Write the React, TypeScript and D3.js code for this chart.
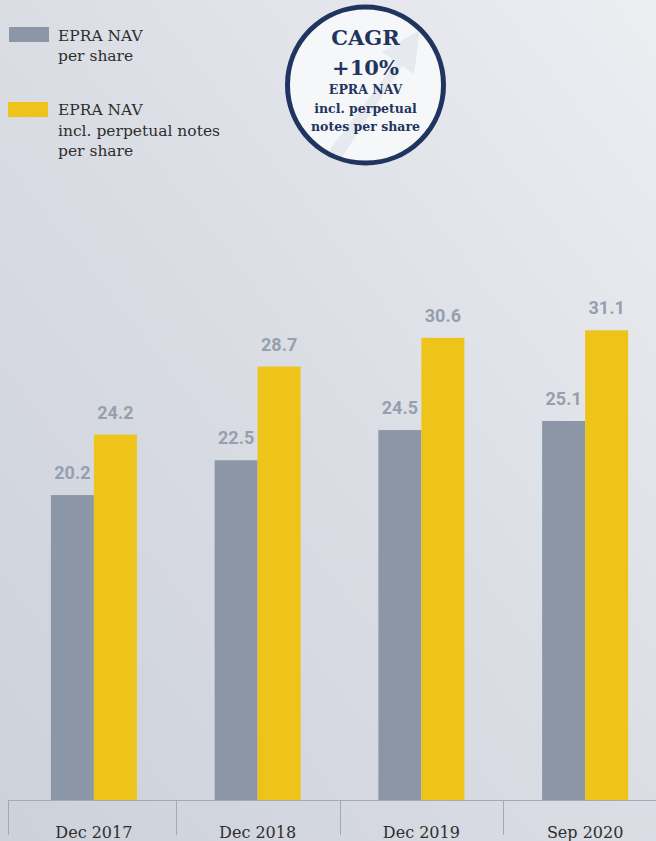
import React from "react";
import * as d3 from "d3";

const categories = ["Dec 2017", "Dec 2018", "Dec 2019", "Sep 2020"];
const navValues = [20.2, 22.5, 24.5, 25.1];
const navInclValues = [24.2, 28.7, 30.6, 31.1];
const seriesNames = ["EPRA NAV per share", "EPRA NAV incl. perpetual notes per share"];
const legendLines = [["EPRA NAV", "per share"], ["EPRA NAV", "incl. perpetual notes", "per share"]];
const badgeLines = ["CAGR", "+10%", "EPRA NAV", "incl. perpetual", "notes per share"];

const W = 656;
const H = 841;
const SERIF = "'DejaVu Serif', 'Liberation Serif', serif";
const SANS = "Roboto, 'Liberation Sans', Arial, sans-serif";
const GRAY = "#8b97a6";
const YELLOW = "#eec41b";
const NAVY = "#1f3560";

export default function App() {
  const baseY = 800.5;
  const x = d3.scaleBand<string>().domain(categories).range([12, 667]).padding(0);
  const y = d3.scaleLinear().domain([0, 40]).range([baseY, baseY - 40 * 15.12]);
  const bw = 43;
  const colors = [GRAY, YELLOW];
  const series = [navValues, navInclValues];

  return (
    <svg width={W} height={H} style={{ position: "absolute", left: 0, top: 0, display: "block" }}>
      <defs>
        <linearGradient id="bg" x1="1" y1="0" x2="0" y2="1">
          <stop offset="0" stopColor="#eceef2" />
          <stop offset="0.5" stopColor="#dadde4" />
          <stop offset="1" stopColor="#cdd1da" />
        </linearGradient>
        <clipPath id="badgeClip">
          <circle cx={365.5} cy={85} r={76} />
        </clipPath>
      </defs>
      <rect x={0} y={0} width={W} height={H} fill="url(#bg)" />

      {/* legend */}
      {legendLines.map((lines, i) => {
        const top = i === 0 ? 27 : 102;
        const base = i === 0 ? 40.5 : 115;
        return (
          <g key={seriesNames[i]}>
            <rect x={i === 0 ? 9 : 8} y={top} width={40} height={15} fill={colors[i]} />
            {lines.map((t, j) => (
              <text key={j} x={58} y={base + j * 20.5} fontFamily={SERIF} fontSize={15.5} fill="#2e2e2e">
                {t}
              </text>
            ))}
          </g>
        );
      })}

      {/* badge */}
      <g>
        <circle cx={365.5} cy={85} r={78} fill="#f7f8fa" fillOpacity={0.92} />
        <path
          d="M322,160 L396,62 L382,52 L420,30 L414,74 L402,66 L336,166 Z"
          fill="#e3e6ec"
          opacity={0.85}
          clipPath="url(#badgeClip)"
        />
        <circle cx={365.5} cy={85} r={78} fill="none" stroke={NAVY} strokeWidth={5} />
        {badgeLines.map((t, i) => {
          const ys = [45, 75, 94, 112.5, 131];
          const big = i < 2;
          return (
            <text
              key={i}
              x={365.5}
              y={ys[i]}
              textAnchor="middle"
              fontFamily={SERIF}
              fontWeight="bold"
              fontSize={big ? 21 : 12.5}
              fill={NAVY}
            >
              {t}
            </text>
          );
        })}
      </g>

      {/* bars */}
      {categories.map((c, ci) => {
        const cx = (x(c) as number) + x.bandwidth() / 2;
        return (
          <g key={c}>
            {series.map((vals, si) => {
              const bx = cx - bw + si * bw;
              const top = y(vals[ci]);
              return (
                <g key={si}>
                  <rect x={bx} y={top} width={bw} height={baseY - top} fill={colors[si]} />
                  <text
                    x={bx + bw / 2}
                    y={top - 16}
                    textAnchor="middle"
                    fontFamily={SANS}
                    fontWeight="bold"
                    fontSize={18}
                    fill="#969fae"
                  >
                    {vals[ci].toFixed(1)}
                  </text>
                </g>
              );
            })}
          </g>
        );
      })}

      {/* axis */}
      <line x1={8} x2={W} y1={baseY} y2={baseY} stroke="#a3aab6" strokeWidth={1.2} />
      {categories.map((c, ci) => {
        const tx = ci === 0 ? 8.5 : Math.round(x(c) as number) + 0.5;
        return (
          <g key={c}>
            <line x1={tx} x2={tx} y1={baseY} y2={835} stroke="#a3aab6" strokeWidth={1} />
            <text
              x={(x(c) as number) + x.bandwidth() / 2}
              y={838}
              textAnchor="middle"
              fontFamily={SERIF}
              fontSize={16}
              fill="#2e2e2e"
            >
              {c}
            </text>
          </g>
        );
      })}
    </svg>
  );
}
